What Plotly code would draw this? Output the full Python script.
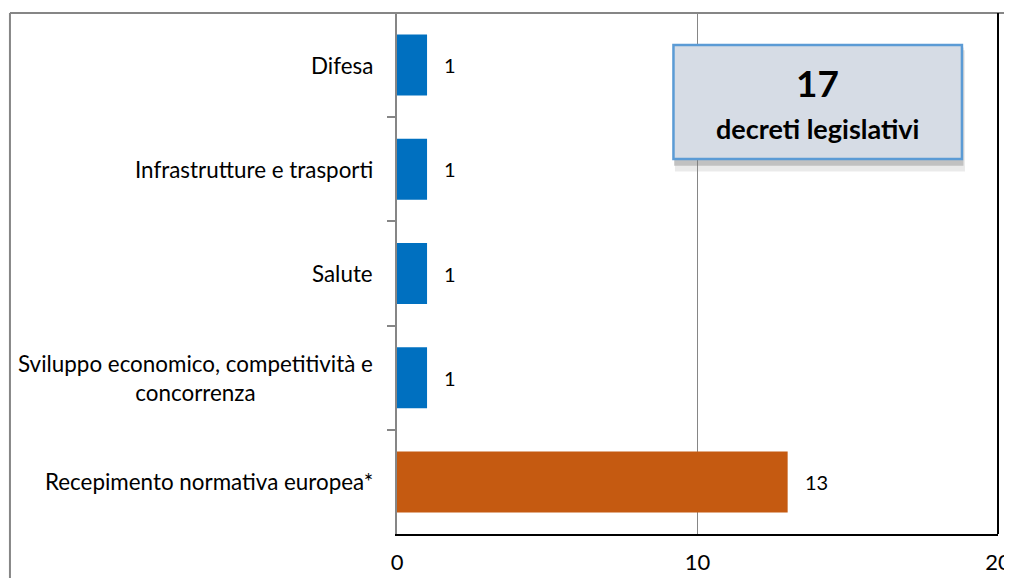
import plotly.graph_objects as go

categories = ["Difesa", "Infrastrutture e trasporti", "Salute",
              "Sviluppo economico, competitività e<br>concorrenza",
              "Recepimento normativa europea*"]
values = [1, 1, 1, 1, 13]
colors = ["#0070C0", "#0070C0", "#0070C0", "#0070C0", "#C55A11"]
total_value = "17"
total_label = "decreti legislativi"
x_ticks = [0, 10, 20]

FONT = "Lato"

fig = go.Figure()
fig.add_trace(go.Bar(
    x=values, y=categories, orientation="h",
    marker=dict(color=colors, line=dict(width=0)),
    width=0.585, hoverinfo="skip",
))

annotations = []
for c, v in zip(categories, values):
    annotations.append(dict(x=0, y=c, xref="x", yref="y", text=c, showarrow=False,
                            xanchor="right", xshift=-22, align="center",
                            font=dict(family=FONT, size=22.4, color="#000000")))
    annotations.append(dict(x=v, y=c, xref="x", yref="y", text=str(v), showarrow=False,
                            xanchor="left", xshift=15,
                            font=dict(family=FONT, size=20, color="#000000")))

# summary box
bx0, bx1 = 9.2, 18.8
by0, by1 = 0.7198, 0.9386
shapes = [
    # shadow
    dict(type="rect", xref="x", yref="paper", x0=bx0 + 0.05, x1=bx1 + 0.1, y0=by0 - 0.024, y1=by1 - 0.01,
         fillcolor="rgba(150,150,150,0.2)", line=dict(width=0), layer="above"),
    dict(type="rect", xref="x", yref="paper", x0=bx0 + 0.02, x1=bx1 + 0.05, y0=by0 - 0.013, y1=by1 - 0.005,
         fillcolor="rgba(110,110,110,0.33)", line=dict(width=0), layer="above"),
    dict(type="rect", xref="x", yref="paper", x0=bx0, x1=bx1, y0=by0, y1=by1,
         fillcolor="#D6DCE5", line=dict(color="#5B9BD5", width=2.5), layer="above"),
    # outer chart border (left and top)
    dict(type="line", xref="paper", yref="paper", x0=-0.644, x1=-0.644, y0=1.0, y1=-0.2,
         line=dict(color="#868686", width=2)),
    dict(type="line", xref="paper", yref="paper", x0=-0.644, x1=1.05, y0=1.0, y1=1.0,
         line=dict(color="#868686", width=2)),
    # right border of plot area
    dict(type="line", xref="paper", yref="paper", x0=1.0, x1=1.0, y0=0, y1=1.0,
         line=dict(color="#000000", width=2)),
]
annotations.append(dict(x=(bx0 + bx1) / 2, y=0.866, xref="x", yref="paper", yanchor="middle",
                        text="<b>" + total_value + "</b>",
                        showarrow=False, font=dict(family=FONT, size=37, color="#000000")))
annotations.append(dict(x=(bx0 + bx1) / 2, y=0.779, xref="x", yref="paper", yanchor="middle",
                        text="<b>" + total_label + "</b>",
                        showarrow=False, font=dict(family=FONT, size=27, color="#000000")))

# page body has an 8px margin: shrink the figure so the plot area lands where it should
fig.update_layout(
    width=1004, height=570,
    margin=dict(l=389, r=14, t=5, b=44, pad=0, autoexpand=False),
    paper_bgcolor="#FFFFFF", plot_bgcolor="#FFFFFF",
    showlegend=False,
    shapes=shapes, annotations=annotations,
    xaxis=dict(range=[0, 20], tickvals=x_ticks, ticktext=[str(t) for t in x_ticks],
               showgrid=True, gridcolor="#868686", gridwidth=1, zeroline=False,
               showline=True, linecolor="#000000", linewidth=2, automargin=False,
               ticks="outside", ticklen=8, tickcolor="rgba(0,0,0,0)",
               tickfont=dict(family=FONT, size=22, color="#000000"), fixedrange=True),
    yaxis=dict(autorange="reversed", showticklabels=False, showgrid=False, zeroline=False,
               showline=True, linecolor="#868686", linewidth=2, automargin=False,
               ticks="outside", tickson="boundaries", ticklen=8, tickcolor="#868686", tickwidth=1.5,
               fixedrange=True),
)

fig.write_html("out.html")
